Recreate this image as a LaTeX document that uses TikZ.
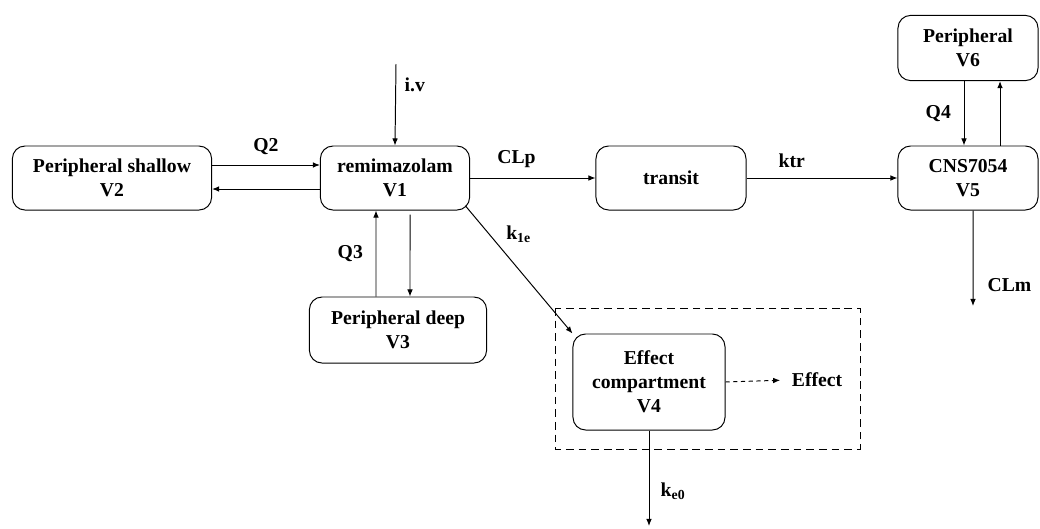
\documentclass[tikz,border=0pt]{standalone}
\usepackage{fontspec}
\setmainfont{Liberation Serif}
\usetikzlibrary{arrows.meta}
\begin{document}
\begin{tikzpicture}[x=.025cm,y=-.025cm,line width=.7pt,font=\fontsize{14}{17}\selectfont\bfseries,
  >={Latex[length=5pt,width=4pt]}]
\tikzset{box/.style={draw,rounded corners=9pt,align=center,inner sep=0pt,minimum height=1.6cm},
  lbl/.style={inner sep=2pt}}
\useasboundingbox (0,0) rectangle (1040,528);
% compartments
\node[box,minimum width=4.98cm] (v2) at (112,178) {Peripheral shallow\\V2};
\node[box,minimum width=3.73cm] (v1) at (395,178) {remimazolam\\V1};
\node[box,minimum width=4.43cm,minimum height=1.65cm] (v3) at (398,330) {Peripheral deep\\V3};
\node[box,minimum width=3.75cm] (tr) at (671,178) {transit};
\node[box,minimum width=3.5cm] (v5) at (968,178) {CNS7054\\V5};
\node[box,minimum width=3.5cm,minimum height=1.63cm] (v6) at (968,48) {Peripheral\\V6};
\node[box,minimum width=3.8cm,minimum height=2.4cm] (v4) at (649,382) {Effect\\compartment\\V4};
\node[lbl] (eff) at (817,380) {Effect};
\draw[dash pattern=on 5.5pt off 3.5pt] (555,308) rectangle (860,449);
% free ends
\coordinate (iv) at (396,64);
\coordinate (clm) at (973,306);
\coordinate (ke) at (649,526);
% flows
\draw[->] (iv) -- node[lbl,right=4pt,pos=.25] (ivl) {i.v} (v1.north);
\draw[->] ([yshift=.325cm]v2.east) -- node[lbl,above=5pt] (q2) {Q2} ([yshift=.325cm]v1.west);
\draw[->] ([yshift=-.275cm]v1.west) -- ([yshift=-.275cm]v2.east);
\draw[->] ([xshift=-.55cm]v3.north) -- node[lbl,left=7pt,pos=.5] (q3) {Q3} ([xshift=-.475cm]v1.south);
\draw[->] ([xshift=.375cm,yshift=-.1cm]v1.south) -- ([xshift=.3cm]v3.north);
\draw[->] (v1.east) -- node[lbl,above=5pt,pos=.37] (clp) {CLp} (tr.west);
\draw[->] (tr.east) -- node[lbl,above=5pt,pos=.3] (ktr) {ktr} (v5.west);
\draw[->] ([xshift=-.1cm]v6.south) -- node[lbl,left=7pt] (q4) {Q4} ([xshift=-.1cm]v5.north);
\draw[->] ([xshift=.8cm]v5.north) -- ([xshift=.8cm]v6.south);
\draw[->] ([xshift=.125cm]v5.south) -- node[lbl,right=8pt,pos=.78] (clml) {CLm} (clm);
\draw[->] ([shift={(-.12cm,.12cm)}]v1.south east) -- node[lbl,right=10pt,pos=.22] (k1e) {k\textsubscript{1e}} (v4.north west);
\draw[->,dash pattern=on 3pt off 2.5pt,shorten >=6pt] (v4.east) -- (eff.west);
\draw[->] (v4.south) -- node[lbl,right=6pt,pos=.64] (ke0) {k\textsubscript{e0}} (ke);
\end{tikzpicture}
\end{document}
